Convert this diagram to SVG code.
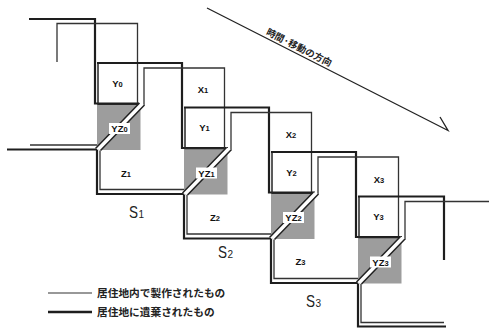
<svg xmlns="http://www.w3.org/2000/svg" width="489" height="328" viewBox="0 0 489 328">
<style>
.tk{fill:none;stroke:#1e1e1e;stroke-width:2.2;stroke-linejoin:miter}
.md{fill:none;stroke:#262626;stroke-width:1.5;stroke-linejoin:miter}
.tn{fill:none;stroke:#333;stroke-width:1.3;stroke-linejoin:miter}
.dg{fill:none;stroke:#222;stroke-width:1.5}
.gap{fill:#fff;stroke:none}
.shade{fill:#9d9d9d}
.lb{font-family:"Liberation Sans",Arial,sans-serif;font-weight:bold;font-size:9.5px;fill:#111;text-anchor:middle}
.sub{font-size:7.5px}
.lbg{fill:#fff}
.sl{font-family:"Liberation Sans",Arial,sans-serif;font-size:16.5px;fill:#222}
.sd{font-family:"Liberation Sans",Arial,sans-serif;font-size:10px;fill:#222}
.jp{font-family:"Noto Sans CJK JP","Noto Sans CJK SC",sans-serif;font-weight:bold;fill:#222}
</style>
<defs>
<g id="yzt">
<rect class="shade" x="97" y="105" width="43.5" height="45"/>
<polygon class="gap" points="139.5,103 144.5,105 100.5,150.5 95.5,148.5"/>
<path class="dg" d="M139.5,103 L95.5,148.5 M144.5,105 L100.5,150.5"/>
<rect class="lbg" x="109" y="123" width="21" height="11"/>
</g>
</defs>
<g id="connectors">
<path class="tk" d="M29,19 H95 V103.5 H139 M97,149.5 H7"/>
<path class="tn" d="M57,62 V23.5 H137.5 V103 M98.9,145 H30"/>
<path class="md" d="M138,104.5 H98 V63"/>
<path class="tk" d="M97,63 H182 V148 H228 M184,194 H97 V150"/>
<path class="tn" d="M144,105 V68 H224.5 V147.5 M186,189.5 H100 V150.5"/>
<path class="md" d="M225,149 H185 V107.5"/>
<path class="tk" d="M184,107.5 H269 V192.5 H315 M271,238.5 H184 V194.5"/>
<path class="tn" d="M231,149.5 V112.5 H311.5 V192 M273,234 H187 V195"/>
<path class="md" d="M312,193.5 H272 V152"/>
<path class="tk" d="M271,152 H356 V237 H402 M358,283 H271 V239"/>
<path class="tn" d="M318,194 V157 H398.5 V236.5 M360,278.5 H274 V239.5"/>
<path class="md" d="M399,238 H359 V196.5"/>
<path class="tk" d="M358,196.5 H444 V260 M446,326.5 H358 V283.5"/>
<path class="tn" d="M405,238.5 V201.5 H489 M444,322.5 H361 V284"/>
</g>
<g id="YZ0"><use href="#yzt"/><text class="lb" x="119.5" y="132">YZ<tspan class="sub">0</tspan></text></g>
<g id="YZ1"><use href="#yzt" transform="translate(87,44.5)"/><text class="lb" x="206.5" y="176.5">YZ<tspan class="sub">1</tspan></text></g>
<g id="YZ2"><use href="#yzt" transform="translate(174,89)"/><text class="lb" x="293.5" y="221">YZ<tspan class="sub">2</tspan></text></g>
<g id="YZ3"><use href="#yzt" transform="translate(261,133.5)"/><text class="lb" x="380.5" y="265.5">YZ<tspan class="sub">3</tspan></text></g>
<g id="Y0"><text class="lb" x="117.5" y="86.5">Y<tspan class="sub">0</tspan></text></g>
<g id="Y1"><text class="lb" x="204.5" y="131">Y<tspan class="sub">1</tspan></text></g>
<g id="Y2"><text class="lb" x="291.5" y="175.5">Y<tspan class="sub">2</tspan></text></g>
<g id="Y3"><text class="lb" x="378.5" y="220">Y<tspan class="sub">3</tspan></text></g>
<g id="X1"><text class="lb" x="203" y="93">X<tspan class="sub">1</tspan></text></g>
<g id="X2"><text class="lb" x="291" y="138">X<tspan class="sub">2</tspan></text></g>
<g id="X3"><text class="lb" x="379" y="183">X<tspan class="sub">3</tspan></text></g>
<g id="Z1"><text class="lb" x="126" y="177">Z<tspan class="sub">1</tspan></text></g>
<g id="Z2"><text class="lb" x="215" y="221">Z<tspan class="sub">2</tspan></text></g>
<g id="Z3"><text class="lb" x="300.5" y="265">Z<tspan class="sub">3</tspan></text></g>
<g id="S1"><text class="sl" x="129" y="218" textLength="9" lengthAdjust="spacingAndGlyphs">S</text><text class="sd" x="138.5" y="218">1</text></g>
<g id="S2"><text class="sl" x="218" y="258" textLength="9" lengthAdjust="spacingAndGlyphs">S</text><text class="sd" x="227.5" y="258">2</text></g>
<g id="S3"><text class="sl" x="306" y="307" textLength="9" lengthAdjust="spacingAndGlyphs">S</text><text class="sd" x="315.5" y="307">3</text></g>
<g id="direction">
<path fill="none" stroke="#222" stroke-width="1.3" d="M207,8 L448,130.5 L440,117"/>
<text class="jp" font-size="9.5" x="265.4" y="34.2" transform="rotate(26.85 265.4 34.2)">時間·移動の方向</text>
</g>
<g id="legend">
<line x1="48" y1="293" x2="92" y2="293" stroke="#333" stroke-width="1.2"/>
<line x1="48" y1="312" x2="92" y2="312" stroke="#1e1e1e" stroke-width="2.5"/>
<text class="jp" font-size="10.7" x="97" y="297">居住地内で製作されたもの</text>
<text class="jp" font-size="10.7" x="97" y="316">居住地に遺棄されたもの</text>
</g>
</svg>
